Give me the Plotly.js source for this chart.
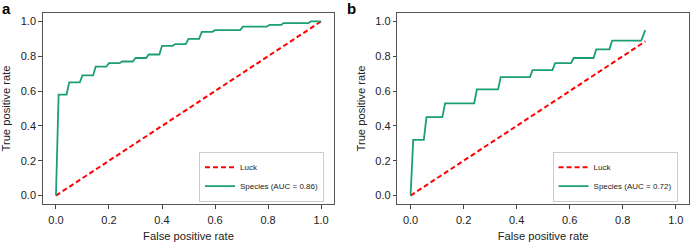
<!DOCTYPE html>
<html>
<head>
<meta charset="utf-8">
<script src="https://cdn.plot.ly/plotly-3.0.1.min.js"></script>
<style>html,body{margin:0;padding:0;background:#fff;}#chart{width:690px;height:242px;}</style>
</head>
<body>
<div id="chart"></div>
<script>
// Panel a: ROC curve (Species, AUC = 0.86)
const fprA = [0, 0.01, 0.04, 0.05, 0.09, 0.10, 0.14, 0.15, 0.19, 0.20, 0.24, 0.25, 0.29, 0.30, 0.34, 0.35, 0.39, 0.40, 0.44, 0.45, 0.49, 0.50, 0.54, 0.55, 0.59, 0.60, 0.695, 0.705, 0.795, 0.805, 0.85, 0.858, 0.953, 0.961, 1.0];
const tprA = [0, 0.58, 0.58, 0.65, 0.65, 0.69, 0.69, 0.74, 0.74, 0.76, 0.76, 0.77, 0.77, 0.79, 0.79, 0.81, 0.81, 0.86, 0.86, 0.87, 0.87, 0.90, 0.90, 0.94, 0.94, 0.95, 0.95, 0.97, 0.97, 0.98, 0.98, 0.99, 0.99, 1.0, 1.0];
const luckA = [0, 1.0];

// Panel b: ROC curve (Species, AUC = 0.72)
const fprB = [0, 0.01, 0.05, 0.06, 0.12, 0.13, 0.24, 0.25, 0.33, 0.34, 0.45, 0.46, 0.535, 0.545, 0.605, 0.615, 0.69, 0.70, 0.75, 0.76, 0.87, 0.885];
const tprB = [0, 0.32, 0.32, 0.45, 0.45, 0.53, 0.53, 0.61, 0.61, 0.68, 0.68, 0.72, 0.72, 0.76, 0.76, 0.79, 0.79, 0.84, 0.84, 0.89, 0.89, 0.95];
const luckB = [0, 0.885];

const nameLuck = "Luck";
const nameA = "Species (AUC = 0.86)";
const nameB = "Species (AUC = 0.72)";
const tickVals = [0, 0.2, 0.4, 0.6, 0.8, 1.0];
const tickText = ["0.0", "0.2", "0.4", "0.6", "0.8", "1.0"];
const xTitle = "False positive rate";
const yTitle = "True positive rate";

const green = "#1b9e77";
const red = "#ff0000";
const font = "Liberation Sans, Arial, Helvetica, sans-serif";

const traces = [
  {x: luckA, y: luckA, xaxis: "x", yaxis: "y", mode: "lines", name: nameLuck, legend: "legend",
   line: {color: red, width: 2, dash: "5px,3px"}},
  {x: fprA, y: tprA, xaxis: "x", yaxis: "y", mode: "lines", name: nameA, legend: "legend",
   line: {color: green, width: 1.8}},
  {x: luckB, y: luckB, xaxis: "x2", yaxis: "y2", mode: "lines", name: nameLuck, legend: "legend2",
   line: {color: red, width: 2, dash: "5px,3px"}},
  {x: fprB, y: tprB, xaxis: "x2", yaxis: "y2", mode: "lines", name: nameB, legend: "legend2",
   line: {color: green, width: 1.8}}
];

function xax(domain, anchor) {
  return {
    domain: domain, anchor: anchor, range: [-0.05, 1.05], automargin: false,
    tickmode: "array", tickvals: tickVals, ticktext: tickText,
    ticks: "outside", ticklen: 3.5, tickwidth: 1, tickcolor: "#444",
    ticklabelstandoff: 2,
    showline: true, mirror: true, linecolor: "#555", linewidth: 1,
    showgrid: false, zeroline: false,
    tickfont: {family: font, size: 11, color: "#222"},
    title: {text: xTitle, font: {family: font, size: 11.2, color: "#222"}}
  };
}
function yax(anchor) {
  return {
    domain: [0.1558, 0.9475], anchor: anchor, range: [-0.05, 1.05], automargin: false,
    tickmode: "array", tickvals: tickVals, ticktext: tickText,
    ticks: "outside", ticklen: 3.5, tickwidth: 1, tickcolor: "#444",
    showline: true, mirror: true, linecolor: "#555", linewidth: 1,
    showgrid: false, zeroline: false,
    tickfont: {family: font, size: 11, color: "#222"},
    title: {text: yTitle, font: {family: font, size: 11.2, color: "#222"}}
  };
}

const legendStyle = {
  font: {family: font, size: 8, color: "#222"},
  bgcolor: "rgba(255,255,255,0.9)", bordercolor: "#cccccc", borderwidth: 1,
  xanchor: "right", yanchor: "bottom", traceorder: "normal",
  tracegroupgap: 0, itemwidth: 30
};

const layout = {
  width: 690, height: 242,
  margin: {l: 0, r: 0, t: 0, b: 0},
  paper_bgcolor: "#fff", plot_bgcolor: "#fff",
  showlegend: true,
  xaxis: xax([0.0619, 0.4845], "y"),
  yaxis: yax("x"),
  xaxis2: xax([0.5758, 0.9986], "y2"),
  yaxis2: yax("x2"),
  legend: Object.assign({x: 0.4696, y: 0.1665}, legendStyle),
  legend2: Object.assign({x: 0.982, y: 0.1665}, legendStyle),
  annotations: [
    {text: "<b>a</b>", xref: "paper", yref: "paper", x: 0.0, y: 1.01, xanchor: "left", yanchor: "top",
     showarrow: false, font: {family: font, size: 15, color: "#000"}},
    {text: "<b>b</b>", xref: "paper", yref: "paper", x: 0.5, y: 1.01, xanchor: "left", yanchor: "top",
     showarrow: false, font: {family: font, size: 15, color: "#000"}}
  ]
};

Plotly.newPlot("chart", traces, layout, {staticPlot: true, displayModeBar: false});
</script>
</body>
</html>
